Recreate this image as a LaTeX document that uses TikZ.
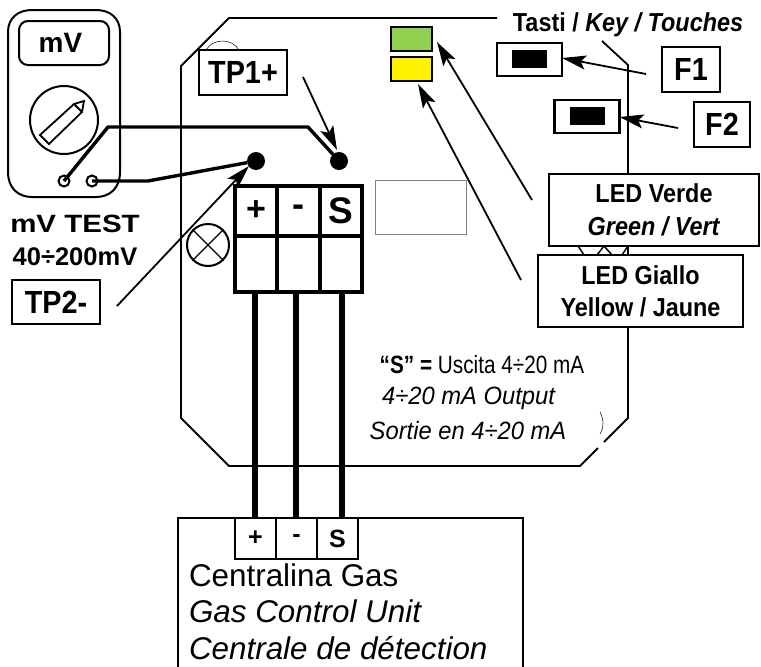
\documentclass[tikz,border=0pt]{standalone}
\usepackage{fontspec}
\setmainfont{Liberation Sans}
\newfontfamily\widefont[FakeStretch=1.18]{Liberation Sans}
\newfontfamily\tallfont[FakeStretch=0.9]{Liberation Sans}
\newfontfamily\outfont[FakeStretch=0.83]{Liberation Sans}
\newfontfamily\outifont[FakeStretch=0.95]{Liberation Sans}
\usetikzlibrary{arrows.meta}
\definecolor{ledgreen}{RGB}{146,208,80}
\tikzset{
  x=1pt,y=-1pt,
  lbl/.style={inner sep=0pt,outer sep=0pt,align=center},
  boxed/.style={draw,line width=2pt,fill=white,inner sep=0pt,outer sep=0pt,align=center,anchor=north west},
  pointer/.style={line width=1.8pt,-{Stealth[length=24pt,width=14pt,inset=5pt]}},
  lead/.style={line width=3.4pt,line join=round},
  cable/.style={line width=6.5pt},
  cell/.style={draw,line width=3.2pt,inner sep=0pt,outer sep=0pt,anchor=north west},
  thincell/.style={draw,line width=1.8pt,inner sep=0pt,outer sep=0pt,anchor=north west},
  dot/.style={circle,fill=black,minimum size=18pt,inner sep=0pt,outer sep=0pt},
  jack/.style={circle,draw,line width=2pt,fill=white,minimum size=11pt,inner sep=0pt,outer sep=0pt},
  key/.style={draw,line width=2.5pt,fill=white,minimum width=65pt,minimum height=33pt,inner sep=0pt,outer sep=0pt},
  keycap/.style={fill=black,minimum width=35pt,minimum height=18pt,inner sep=0pt},
  led/.style={draw,line width=2.8pt,minimum width=41pt,minimum height=24pt,inner sep=0pt,outer sep=0pt}
}
\newcommand{\bx}[2]{\node[minimum width=#1pt,minimum height=#2pt]}
\begin{document}
\begin{tikzpicture}
\useasboundingbox (0,0) rectangle (761,667);
% board outline
\draw[line width=1.8pt,line join=miter] (497,18) -- (229,18) -- (181,66) -- (181,418) -- (229,466) -- (580,466) -- (598,448);
\draw[line width=1.8pt,line join=miter] (604,442) -- (628,418) -- (628,65) -- (602,41);
\draw[line width=0.5pt] (206,50) .. controls (213,38) and (232,38) .. (239,50);
\draw[line width=0.5pt] (600,412) .. controls (604,420) and (604,428) .. (600,434);
\draw[line width=1pt,draw=gray] (375,180) rectangle (466,234);
\draw[line width=1.5pt] (578,246) -- (584,255) (597,255) -- (604,246) -- (612,255) (622,255) -- (628,246);

% multimeter
\draw[line width=2pt] (8,32) .. controls (8,18) and (18,10) .. (32,10) -- (96,10) .. controls (110,10) and (120,18) .. (120,32)
  -- (120,172) .. controls (120,188) and (110,197) .. (96,197) -- (32,197) .. controls (18,197) and (8,188) .. (8,172) -- cycle;
\node[boxed,rounded corners=9pt,minimum width=90pt,minimum height=44pt,font=\bfseries\fontsize{28}{28}\selectfont] (display) at (19,21) {mV\hspace{7pt}};
\node[circle,draw,line width=2pt,minimum size=68pt,inner sep=0pt] (dial) at (64,120) {};
\draw[line width=1.8pt,line join=miter] (84,101) -- (82,112) -- (49,144) -- (40,135) -- (74,104) -- cycle (74,104) -- (82,112);
\node[jack] (jackA) at (64,181) {};
\node[jack] (jackB) at (92,181) {};
\node[lbl,font=\widefont\bfseries\fontsize{25}{25}\selectfont] (mvtest) at (75,224) {mV TEST};
\node[lbl,font=\bfseries\fontsize{25.5}{25.5}\selectfont] (range) at (75,257) {40÷200mV};

% test points
\node[dot] (tpneg) at (256,161) {};
\node[dot] (tppos) at (339,161) {};

% cables
\coordinate (c1t) at (255,292); \coordinate (c2t) at (296,292); \coordinate (c3t) at (342,292);
\coordinate (c1b) at (255,518); \coordinate (c2b) at (296,518); \coordinate (c3b) at (342,518);
\draw[cable] (c1t) -- (c1b);
\draw[cable] (c2t) -- (c2b);
\draw[cable] (c3t) -- (c3b);

% leads
\draw[lead] (jackA.center) -- (108,127) -- (308,127) -- (tppos);
\draw[lead] (jackB.center) -- (148,181) -- (tpneg);

% terminal block
\bx{42}{50}[cell,font=\bfseries\fontsize{34}{34}\selectfont] (tplus) at (235,186) {\raisebox{-8pt}{+}};
\bx{43}{50}[cell,font=\bfseries\fontsize{36}{36}\selectfont] (tminus) at (277,186) {\raisebox{-5pt}{-}};
\bx{42}{50}[cell,font=\bfseries\fontsize{37}{37}\selectfont] (ts) at (320,186) {\raisebox{-4pt}{S}};
\bx{42}{56}[cell] (bplus) at (235,236) {};
\bx{43}{56}[cell] (bminus) at (277,236) {};
\bx{42}{56}[cell] (bs) at (320,236) {};

% lamp symbol
\node[circle,draw,line width=2pt,minimum size=42pt,inner sep=0pt,fill=white] (lamp) at (208,245) {};
\draw[line width=1.2pt] (lamp.north west) -- (lamp.south east);
\draw[line width=1.2pt] (lamp.north east) -- (lamp.south west);

% labels with pointers
\node[boxed,minimum width=88pt,minimum height=45pt,font=\tallfont\bfseries\fontsize{32}{32}\selectfont] (tp1) at (199,50) {TP1+};
\node[boxed,minimum width=88pt,minimum height=44pt,font=\tallfont\bfseries\fontsize{32}{32}\selectfont] (tp2) at (12,280) {TP2-};
\coordinate (tp1end) at (303,77);
\coordinate (tp2end) at (117,306);
\draw[pointer] (tp1end) -- (337,150);
\draw[pointer] (tp2end) -- (249,166);

% LEDs
\node[led,fill=ledgreen] (ledg) at (411.5,39) {};
\node[led,fill=yellow] (ledy) at (411.5,69) {};

% keys
\node[lbl,font=\tallfont\bfseries\fontsize{26}{26}\selectfont] (tasti) at (628,25) {Tasti / \textit{Key / Touches}};
\node[key] (key1) at (529.5,59.5) {};
\node[keycap] (cap1) at (529.5,59) {};
\node[key] (key2) at (587,116.5) {};
\node[keycap] (cap2) at (587,116) {};
\node[boxed,minimum width=58pt,minimum height=45pt,font=\tallfont\bfseries\fontsize{32}{32}\selectfont] (f1) at (662,47) {F1};
\node[boxed,minimum width=56pt,minimum height=45pt,font=\tallfont\bfseries\fontsize{32}{32}\selectfont] (f2) at (694,102) {F2};
\coordinate (f1end) at (646,74);
\coordinate (f2end) at (678,128);
\draw[pointer] (f1end) -- (key1.east |- 0,58);
\draw[pointer] (f2end) -- (key2.east |- 0,117);

% LED labels
\node[boxed,minimum width=210pt,minimum height=72pt,font=\tallfont\bfseries\fontsize{26}{33}\selectfont] (lv) at (549,174) {\raisebox{-2.5pt}{LED Verde}\\\raisebox{-2.5pt}{\textit{Green / Vert}}};
\node[boxed,minimum width=205pt,minimum height=72pt,font=\tallfont\bfseries\fontsize{26}{32}\selectfont] (lgi) at (538,255) {LED Giallo\\Yellow / Jaune};
\coordinate (lvend) at (532,200);
\coordinate (lgend) at (521,280);
\draw[pointer] (lvend) -- (437,42);
\draw[pointer] (lgend) -- (418,84);

% S output text
\node[lbl,font=\outfont\fontsize{25}{25}\selectfont] (s1) at (482,365) {\textbf{“S” =} Uscita 4÷20 mA};
\node[lbl,font=\outifont\itshape\fontsize{25}{25}\selectfont] (s2) at (468.5,398) {4÷20 mA Output};
\node[lbl,font=\outifont\itshape\fontsize{25}{25}\selectfont] (s3) at (468,431) {Sortie en 4÷20 mA};

% control unit
\draw[line width=1.8pt] (178,667) -- (178,518) -- (523,518) -- (523,667);
\bx{41}{41}[thincell,fill=white,font=\bfseries\fontsize{25}{25}\selectfont] (uplus) at (235,518) {+};
\bx{41}{41}[thincell,fill=white,font=\bfseries\fontsize{25}{25}\selectfont] (uminus) at (276,518) {\raisebox{-5pt}{-}};
\bx{41}{41}[thincell,fill=white,font=\bfseries\fontsize{25}{25}\selectfont] (us) at (317,518) {S};
\node[lbl,anchor=west,font=\fontsize{31.4}{31.4}\selectfont] (u1) at (189,575) {Centralina Gas};
\node[lbl,anchor=west,font=\itshape\fontsize{31.4}{31.4}\selectfont] (u2) at (189,611) {Gas Control Unit};
\node[lbl,anchor=west,font=\itshape\fontsize{31.4}{31.4}\selectfont] (u3) at (189,648) {Centrale de détection};
\end{tikzpicture}
\end{document}
